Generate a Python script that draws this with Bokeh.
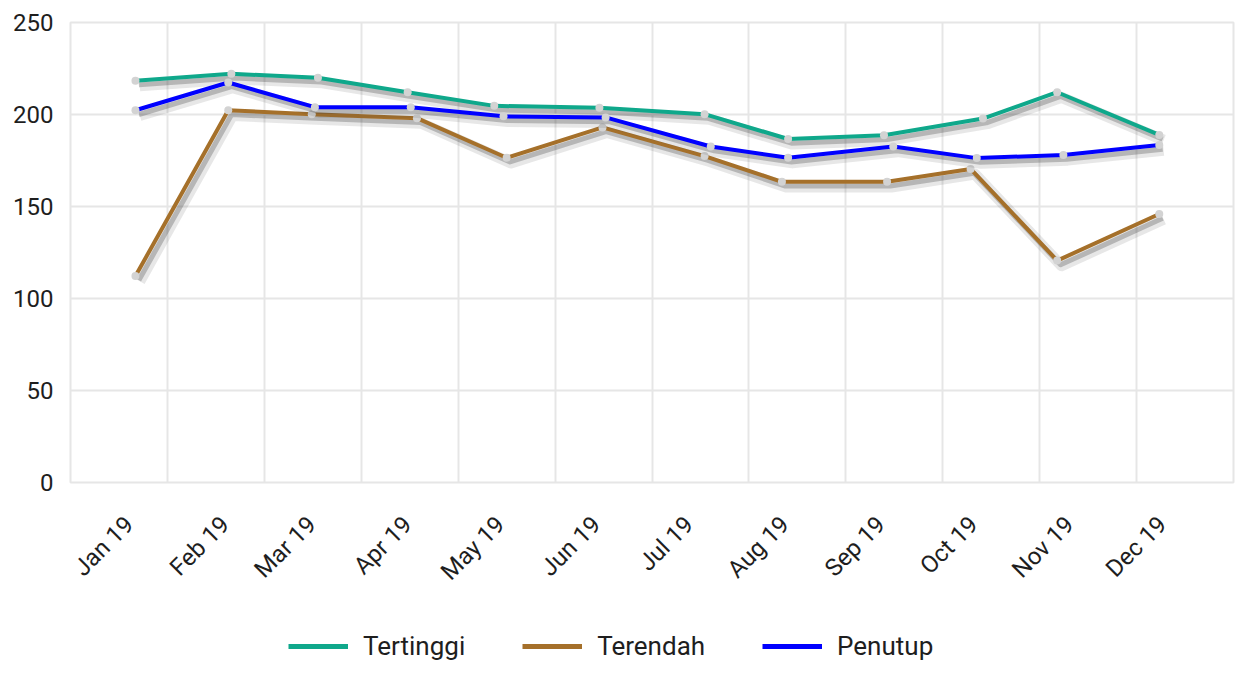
import math
import numpy as np
import pandas as pd
from bokeh.plotting import figure
from bokeh.layouts import column
from bokeh.models import (ColumnDataSource, Range1d, FixedTicker, DatetimeTickFormatter,
                          Legend, LegendItem)
from bokeh.transform import dodge
from bokeh.embed import file_html
from bokeh.resources import INLINE

# ---------------- data ----------------
month_ticks = ["2019-01-01", "2019-02-01", "2019-03-01", "2019-04-01", "2019-05-01", "2019-06-01",
               "2019-07-01", "2019-08-01", "2019-09-01", "2019-10-01", "2019-11-01", "2019-12-01"]

tertinggi_dates = ["2019-01-03", "2019-02-03", "2019-03-03", "2019-04-01", "2019-04-29", "2019-06-02",
                   "2019-07-06", "2019-08-02", "2019-09-02", "2019-10-04", "2019-10-28", "2019-11-30"]
tertinggi = [218.4, 222.1, 220.0, 212.1, 204.7, 203.7, 200.2, 186.7, 188.7, 197.8, 212.1, 188.9]

terendah_dates = ["2019-01-03", "2019-02-02", "2019-03-01", "2019-04-04", "2019-05-03", "2019-06-03",
                  "2019-07-06", "2019-07-31", "2019-09-03", "2019-09-30", "2019-10-28", "2019-11-30"]
terendah = [112.2, 202.3, 200.2, 198.0, 176.5, 193.0, 177.4, 163.4, 163.4, 170.4, 120.6, 145.9]

penutup_dates = ["2019-01-03", "2019-02-02", "2019-03-02", "2019-04-02", "2019-05-02", "2019-06-04",
                 "2019-07-08", "2019-08-02", "2019-09-05", "2019-10-02", "2019-10-30", "2019-11-30"]
penutup = [202.3, 217.4, 204.0, 204.0, 199.0, 198.4, 182.6, 176.5, 182.6, 176.3, 178.0, 183.4]

series_names = ["Tertinggi", "Terendah", "Penutup"]
series_colors = ["#0fa88b", "#a5702a", "#0000ff"]

x_start = "2018-12-13"
x_end = "2019-12-24"
y_ticks = [0, 50, 100, 150, 200, 250]

FONT = "Roboto"
GRID = "#e6e6e6"
TEXT = "#1e1e1e"

# ---------------- main chart ----------------
def ms(d):
    return pd.Timestamp(d).value / 1e6

x0, x1 = ms(x_start), ms(x_end)

p = figure(width=1235, height=625, x_axis_type="datetime",
           x_range=Range1d(pd.Timestamp(x_start), pd.Timestamp(x_end)),
           y_range=Range1d(0, 250),
           output_backend="svg", toolbar_location=None,
           min_border_left=70, min_border_right=2, min_border_top=22, min_border_bottom=143)
p.background_fill_color = "white"
p.border_fill_color = "white"
p.outline_line_color = GRID
p.outline_line_width = 2

# grids
p.ygrid[0].ticker = FixedTicker(ticks=y_ticks)
p.ygrid[0].grid_line_color = GRID
p.ygrid[0].grid_line_width = 2
p.xgrid[0].ticker = FixedTicker(ticks=[x0 + i * (x1 - x0) / 12 for i in range(13)])
p.xgrid[0].grid_line_color = GRID
p.xgrid[0].grid_line_width = 2

# axes
p.yaxis.ticker = FixedTicker(ticks=y_ticks)
p.xaxis.ticker = FixedTicker(ticks=[ms(d) for d in month_ticks])
fmt = "%b %y"
p.xaxis.formatter = DatetimeTickFormatter(years=fmt, months=fmt, days=fmt, hours=fmt,
                                          hourmin=fmt, minutes=fmt, minsec=fmt, seconds=fmt,
                                          milliseconds=fmt, microseconds=fmt)
for ax in (p.xaxis[0], p.yaxis[0]):
    ax.axis_line_color = None
    ax.major_tick_line_color = None
    ax.minor_tick_line_color = None
    ax.major_tick_out = 0
    ax.major_tick_in = 0
    ax.major_label_text_font = FONT
    ax.major_label_text_color = TEXT
    ax.major_label_text_font_size = "24px"
p.yaxis.major_label_standoff = 17
p.xaxis.major_label_standoff = 38
p.xaxis.major_label_orientation = math.pi / 4

# series
all_dates = [tertinggi_dates, terendah_dates, penutup_dates]
all_vals = [tertinggi, terendah, penutup]
for name, color, dates, vals in zip(series_names, series_colors, all_dates, all_vals):
    src = ColumnDataSource(dict(x=pd.to_datetime(dates), y=vals))
    # soft drop shadow
    p.line(x=dodge("x", 86400000 * 1.4), y=dodge("y", -2.8), source=src,
           line_color="#444444", line_alpha=0.13, line_width=11, line_join="round")
    p.line(x=dodge("x", 86400000 * 1.1), y=dodge("y", -2.3), source=src,
           line_color="#444444", line_alpha=0.30, line_width=5, line_join="round")
    p.line(x="x", y="y", source=src, line_color=color, line_width=4, line_join="round")
    p.scatter(x="x", y="y", source=src, size=8, fill_color="#d3d3d3", line_color=None)

# ---------------- legend strip ----------------
lg = figure(width=1235, height=36, x_range=Range1d(0, 1), y_range=Range1d(0, 1),
            x_axis_location=None, y_axis_location=None,
            output_backend="svg", toolbar_location=None,
            min_border_left=0, min_border_right=0, min_border_top=0, min_border_bottom=0)
lg.grid.visible = False
lg.outline_line_color = None
lg.background_fill_color = "white"
lg.border_fill_color = "white"
items = []
for name, color in zip(series_names, series_colors):
    # legend-only renderer: one undefined point, so nothing is drawn in the strip itself
    r = lg.line(x=np.array([0.0]), y=np.array([np.nan]), line_color=color, line_width=5)
    items.append(LegendItem(label=name, renderers=[r]))

# the strip's frame is aligned with the chart frame (left edge 70px)
legend = Legend(items=items, orientation="horizontal", location=(218, 0))
legend.glyph_width = 60
legend.glyph_height = 24
legend.label_standoff = 15
legend.spacing = 57
legend.padding = 0
legend.margin = 0
legend.border_line_color = None
legend.background_fill_alpha = 0
legend.label_text_font = FONT
legend.label_text_font_size = "26px"
legend.label_text_color = TEXT
lg.add_layout(legend, "center")

layout = column(p, lg, spacing=0)
open("out.html", "w").write(file_html(layout, INLINE))
